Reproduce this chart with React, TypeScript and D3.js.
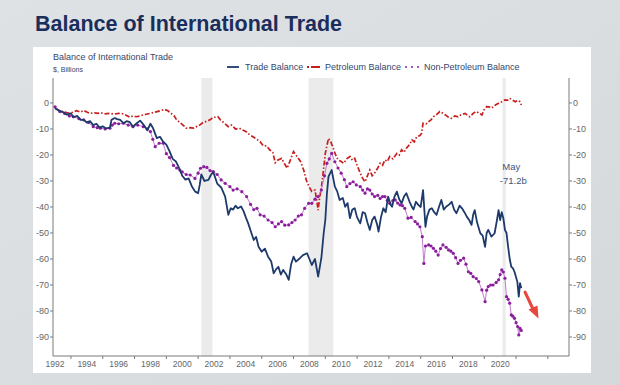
import * as d3 from "d3";

// Monthly readings (decimal year) taken off the chart, $ billions
const tradeDates = [
  1992.0, 1992.25, 1992.5, 1992.75, 1993.0, 1993.15, 1993.4, 1993.6, 1993.8, 1994.0,
  1994.2, 1994.4, 1994.6, 1994.8, 1995.0, 1995.2, 1995.45, 1995.55, 1995.75, 1995.9,
  1996.1, 1996.3, 1996.5, 1996.7, 1996.9, 1997.1, 1997.35, 1997.55, 1997.8, 1998.0,
  1998.15, 1998.4, 1998.6, 1998.8, 1999.0, 1999.2, 1999.4, 1999.6, 1999.8, 2000.0,
  2000.2, 2000.4, 2000.6, 2000.8, 2001.0, 2001.1, 2001.2, 2001.4, 2001.65, 2001.8,
  2001.95, 2002.2, 2002.45, 2002.7, 2002.9, 2003.05, 2003.2, 2003.35, 2003.5, 2003.7,
  2003.85, 2004.0, 2004.15, 2004.35, 2004.5, 2004.65, 2004.8, 2005.0, 2005.2, 2005.4,
  2005.6, 2005.75, 2005.9, 2006.05, 2006.2, 2006.35, 2006.55, 2006.7, 2006.85, 2007.0,
  2007.15, 2007.4, 2007.6, 2007.85, 2008.0, 2008.15, 2008.35, 2008.55, 2008.75, 2008.9,
  2009.0, 2009.1, 2009.2, 2009.4, 2009.5, 2009.6, 2009.75, 2009.9, 2010.1, 2010.25,
  2010.4, 2010.55, 2010.7, 2010.85, 2011.0, 2011.2, 2011.35, 2011.5, 2011.65, 2011.8,
  2011.95, 2012.1, 2012.25, 2012.35, 2012.5, 2012.65, 2012.8, 2012.95, 2013.1, 2013.2,
  2013.35, 2013.5, 2013.65, 2013.8, 2013.95, 2014.1, 2014.3, 2014.45, 2014.55, 2014.7,
  2014.85, 2015.0, 2015.15, 2015.3, 2015.4, 2015.55, 2015.7, 2015.85, 2016.0, 2016.15,
  2016.3, 2016.45, 2016.6, 2016.8, 2016.95, 2017.1, 2017.25, 2017.45, 2017.6, 2017.75,
  2017.9, 2018.05, 2018.2, 2018.3, 2018.4, 2018.55, 2018.75, 2018.9, 2019.05, 2019.15,
  2019.25, 2019.45, 2019.65, 2019.8, 2019.9, 2020.0, 2020.1, 2020.2, 2020.3, 2020.4,
  2020.5, 2020.6, 2020.7, 2020.8, 2020.9, 2021.0, 2021.08, 2021.17, 2021.25, 2021.33,
];
const tradeValues = [
  -2.0, -3.0, -3.5, -4.5, -4.0, -5.5, -5.0, -6.5, -6.5, -7.5,
  -7.0, -8.5, -8.0, -9.5, -9.0, -9.8, -9.5, -6.5, -5.8, -6.2,
  -6.5, -7.8, -7.0, -7.4, -9.1, -8.0, -6.8, -8.2, -10.5, -8.0,
  -9.5, -13.5, -13.0, -14.9, -16.0, -18.5, -21.5, -22.5, -25.0, -28.0,
  -29.5, -29.0, -32.0, -34.0, -34.7, -31.5, -27.5, -30.0, -29.6, -27.7,
  -26.5, -31.0, -32.5, -36.0, -43.0, -40.5, -41.0, -39.5, -40.5, -39.8,
  -41.5, -44.0, -46.3, -50.0, -52.7, -51.5, -55.3, -57.2, -56.0, -59.1,
  -61.0, -65.5, -64.0, -63.0, -66.0, -64.2, -66.0, -68.0, -62.0, -59.1,
  -61.0, -59.7, -58.5, -57.8, -60.0, -62.3, -60.0, -66.8, -59.7, -50.0,
  -45.0, -35.0, -28.3, -25.8, -29.0, -32.2, -34.0, -37.3, -36.5, -39.9,
  -38.5, -44.3, -41.0, -40.5, -44.0, -46.3, -42.0, -42.4, -46.0, -48.8,
  -45.0, -43.7, -46.5, -49.5, -44.0, -40.5, -42.0, -36.0, -39.0, -39.9,
  -36.0, -34.1, -37.0, -38.6, -36.0, -34.7, -38.0, -40.0, -41.0, -38.0,
  -39.2, -40.0, -33.5, -47.6, -43.7, -41.0, -40.5, -42.0, -43.0, -40.0,
  -37.3, -41.0, -39.9, -39.0, -38.0, -41.0, -42.4, -39.5, -40.5, -42.0,
  -43.7, -45.0, -46.9, -43.0, -41.2, -46.0, -50.1, -51.0, -55.3, -50.0,
  -48.8, -51.4, -50.1, -45.0, -41.2, -45.0, -42.0, -44.3, -48.8, -50.0,
  -55.3, -60.0, -63.0, -63.5, -64.9, -67.0, -68.7, -74.5, -69.3, -71.2,
];

const petroDates = [
  1992.0, 1992.3, 1992.6, 1992.95, 1993.15, 1993.35, 1993.6, 1993.8, 1994.0, 1994.2,
  1994.5, 1994.7, 1994.85, 1995.1, 1995.45, 1995.7, 1996.0, 1996.3, 1996.5, 1996.7,
  1996.9, 1997.1, 1997.35, 1997.6, 1998.0, 1998.3, 1998.6, 1998.9, 1999.1, 1999.3,
  1999.5, 1999.65, 1999.85, 2000.05, 2000.25, 2000.5, 2000.7, 2000.9, 2001.1, 2001.3,
  2001.55, 2001.75, 2001.95, 2002.1, 2002.25, 2002.4, 2002.6, 2002.9, 2003.1, 2003.35,
  2003.6, 2003.8, 2004.0, 2004.25, 2004.45, 2004.7, 2004.9, 2005.1, 2005.3, 2005.5,
  2005.7, 2005.85, 2006.0, 2006.25, 2006.4, 2006.6, 2006.8, 2007.0, 2007.15, 2007.3,
  2007.45, 2007.65, 2007.8, 2008.0, 2008.15, 2008.35, 2008.45, 2008.55, 2008.65, 2008.75,
  2008.9, 2009.0, 2009.2, 2009.35, 2009.5, 2009.65, 2009.8, 2010.0, 2010.15, 2010.35,
  2010.55, 2010.7, 2010.85, 2011.0, 2011.2, 2011.35, 2011.5, 2011.65, 2011.8, 2011.95,
  2012.1, 2012.3, 2012.45, 2012.6, 2012.75, 2012.9, 2013.05, 2013.25, 2013.5, 2013.65,
  2013.8, 2013.95, 2014.1, 2014.3, 2014.45, 2014.6, 2014.75, 2014.95, 2015.05, 2015.15,
  2015.35, 2015.5, 2015.65, 2015.8, 2016.0, 2016.2, 2016.4, 2016.55, 2016.75, 2016.95,
  2017.15, 2017.35, 2017.55, 2017.8, 2017.95, 2018.1, 2018.3, 2018.5, 2018.7, 2018.85,
  2019.0, 2019.15, 2019.3, 2019.45, 2019.7, 2019.9, 2020.1, 2020.3, 2020.45, 2020.6,
  2020.75, 2020.95, 2021.1, 2021.25, 2021.33,
];
const petroValues = [
  -2.0, -3.0, -3.5, -4.0, -3.5, -3.0, -3.5, -2.9, -3.5, -4.0,
  -3.8, -4.0, -3.7, -4.2, -4.0, -4.3, -4.0, -4.2, -4.8, -5.5,
  -5.0, -5.3, -5.0, -4.5, -4.0, -3.5, -3.0, -2.5, -3.0, -4.0,
  -5.0, -6.5, -7.5, -8.5, -9.7, -9.5, -9.7, -9.1, -8.5, -7.5,
  -7.0, -6.5, -5.5, -5.5, -5.3, -6.5, -7.5, -9.1, -8.5, -10.0,
  -9.7, -10.4, -11.0, -12.3, -13.0, -14.0, -14.9, -16.5, -16.5, -18.0,
  -19.0, -23.0, -22.0, -21.3, -23.0, -25.1, -22.0, -18.7, -20.0, -21.3,
  -22.6, -26.0, -29.6, -32.5, -34.0, -33.5, -37.0, -41.2, -36.0, -32.8,
  -25.0, -19.4, -13.6, -15.0, -17.4, -20.0, -21.9, -22.5, -23.2, -21.5,
  -20.6, -22.0, -21.3, -24.0, -27.0, -29.0, -30.3, -28.0, -25.8, -28.0,
  -27.0, -25.0, -23.2, -24.0, -21.9, -22.5, -20.6, -21.5, -19.4, -20.0,
  -18.0, -19.0, -17.4, -16.0, -14.2, -15.0, -13.0, -12.5, -11.7, -7.8,
  -8.0, -7.2, -6.5, -5.3, -4.5, -3.3, -4.0, -4.6, -5.5, -5.9,
  -5.0, -5.3, -4.5, -4.0, -4.8, -5.3, -4.0, -3.3, -4.0, -4.6,
  -2.5, -1.4, -1.5, -2.0, -0.8, -0.1, 0.5, 1.2, 1.0, 1.8,
  1.2, 0.5, 1.0, 0.5, -0.8,
];

const nonPetroDates = [
  1992.0, 1992.3, 1992.6, 1992.9, 1993.15, 1993.5, 1993.8, 1994.1, 1994.4, 1994.65,
  1994.85, 1995.15, 1995.45, 1995.6, 1995.75, 1996.0, 1996.3, 1996.6, 1996.9, 1997.2,
  1997.55, 1997.8, 1998.0, 1998.15, 1998.3, 1998.55, 1998.8, 1999.0, 1999.2, 1999.45,
  1999.65, 1999.85, 2000.0, 2000.25, 2000.5, 2000.8, 2001.0, 2001.15, 2001.35, 2001.55,
  2001.75, 2001.95, 2002.2, 2002.45, 2002.7, 2003.0, 2003.2, 2003.45, 2003.75, 2004.05,
  2004.3, 2004.5, 2004.7, 2004.9, 2005.15, 2005.4, 2005.65, 2005.85, 2006.05, 2006.25,
  2006.45, 2006.7, 2006.9, 2007.1, 2007.3, 2007.5, 2007.7, 2007.95, 2008.15, 2008.35,
  2008.55, 2008.75, 2008.95, 2009.1, 2009.25, 2009.4, 2009.6, 2009.8, 2010.0, 2010.2,
  2010.35, 2010.55, 2010.75, 2010.95, 2011.2, 2011.35, 2011.5, 2011.65, 2011.8, 2011.95,
  2012.1, 2012.3, 2012.45, 2012.6, 2012.75, 2012.9, 2013.05, 2013.25, 2013.4, 2013.55,
  2013.7, 2013.85, 2014.0, 2014.2, 2014.4, 2014.65, 2014.8, 2014.95, 2015.1, 2015.2,
  2015.3, 2015.5, 2015.65, 2015.8, 2015.95, 2016.1, 2016.25, 2016.4, 2016.6, 2016.75,
  2016.9, 2017.05, 2017.2, 2017.35, 2017.5, 2017.7, 2017.85, 2018.0, 2018.15, 2018.3,
  2018.5, 2018.65, 2018.85, 2019.05, 2019.15, 2019.25, 2019.4, 2019.55, 2019.75, 2019.9,
  2020.0, 2020.1, 2020.2, 2020.3, 2020.4, 2020.5, 2020.6, 2020.7, 2020.8, 2020.9,
  2021.0, 2021.1, 2021.17, 2021.25, 2021.33,
];
const nonPetroValues = [
  -1.5, -3.3, -4.0, -5.0, -5.3, -6.0, -6.5, -7.5, -9.1, -9.5,
  -9.7, -10.0, -9.7, -8.5, -7.8, -8.0, -7.8, -8.5, -9.1, -8.5,
  -9.1, -10.0, -11.0, -14.0, -16.8, -15.5, -15.5, -19.5, -21.0, -24.0,
  -25.0, -25.8, -26.5, -27.5, -27.7, -29.0, -27.0, -25.1, -24.5, -24.8,
  -26.0, -26.4, -27.5, -29.6, -30.9, -32.2, -33.5, -33.0, -34.1, -36.0,
  -39.0, -41.0, -40.5, -43.0, -43.5, -45.0, -46.0, -47.6, -46.5, -45.6,
  -47.0, -46.9, -46.0, -45.0, -43.5, -43.0, -40.5, -38.6, -38.6, -37.0,
  -36.0, -33.5, -28.0, -23.2, -21.5, -19.4, -22.6, -25.0, -27.0, -29.5,
  -32.2, -31.0, -30.3, -31.5, -32.2, -33.5, -34.7, -33.0, -33.5, -35.0,
  -36.0, -35.5, -36.7, -36.0, -36.0, -37.5, -38.6, -37.5, -37.3, -38.5,
  -39.2, -39.5, -40.5, -44.3, -44.0, -45.6, -46.5, -47.6, -51.4, -61.7,
  -55.0, -54.6, -55.0, -55.9, -57.0, -58.5, -56.0, -54.6, -55.5, -56.5,
  -57.0, -57.8, -59.5, -61.7, -60.5, -59.7, -62.0, -64.9, -65.5, -66.8,
  -67.5, -68.7, -71.9, -76.4, -72.0, -70.6, -70.0, -70.0, -69.0, -68.0,
  -66.0, -64.2, -65.0, -67.4, -74.5, -75.5, -77.0, -81.5, -82.0, -82.8,
  -84.5, -86.0, -89.2, -86.7, -87.5,
];

// Recession bands [start, end]
const recessions = [
  [2001.2, 2001.9],
  [2007.95, 2009.5],
  [2020.15, 2020.35],
];

const yTicks = [0, -10, -20, -30, -40, -50, -60, -70, -80, -90];
const xLabelYears = [
  1992, 1994, 1996, 1998, 2000, 2002, 2004, 2006, 2008, 2010, 2012, 2014, 2016, 2018, 2020,
];
const xTickYears = [
  1993, 1995, 1997, 1999, 2001, 2003, 2005, 2007, 2009, 2011, 2013, 2015, 2017, 2019, 2021, 2023,
];

const NAVY = "#1d3a6b";
const RED = "#c81e1e";
const PURPLE = "#8a1e9c";
const FONT = "'Liberation Sans', Arial, sans-serif";

const App = () => {
  const width = 620;
  const height = 385;
  const left = 53;
  const right = 569;
  const top = 78;
  const bottom = 356;

  const x = d3.scaleLinear().domain([1991.87, 2024.33]).range([left, right]);
  const y = d3.scaleLinear().domain([-97.3, 9.6]).range([bottom, top]);

  const line = d3
    .line<[number, number]>()
    .x((d) => x(d[0]))
    .y((d) => y(d[1]));

  const trade = tradeDates.map((d, i) => [d, tradeValues[i]] as [number, number]);
  const petro = petroDates.map((d, i) => [d, petroValues[i]] as [number, number]);
  const nonPetro = nonPetroDates.map((d, i) => [d, nonPetroValues[i]] as [number, number]);
  const last = trade[trade.length - 1];

  return (
    <div style={{ position: "fixed", left: 0, top: 0 }}>
      <svg width={width} height={height} style={{ display: "block" }} fontFamily={FONT}>
        <defs>
          <linearGradient id="bg" x1="0" y1="0" x2="1" y2="1">
            <stop offset="0" stopColor="#dfe2e5" />
            <stop offset="1" stopColor="#d6d9dc" />
          </linearGradient>
        </defs>
        <rect width={width} height={height} fill="url(#bg)" />

        {/* Slide title */}
        <text x={35} y={31} fontSize={21.5} fontWeight="bold" fill="#1b2d5b">
          Balance of International Trade
        </text>

        {/* White chart panel */}
        <rect x={33} y={47} width={558} height={326} fill="#ffffff" />

        <text x={53} y={60} fontSize={9} fill="#34466b">
          Balance of International Trade
        </text>
        <text x={53} y={72} fontSize={7} fill="#34466b">
          $, Billions
        </text>

        {/* Legend */}
        <g fontSize={9} fill="#34466b">
          <line x1={227} x2={239} y1={67} y2={67} stroke={NAVY} strokeWidth={1.8} />
          <text x={245} y={70}>Trade Balance</text>
          <line x1={307} x2={320} y1={67} y2={67} stroke={RED} strokeWidth={1.8} strokeDasharray="2 2 9 0" />
          <text x={325} y={70}>Petroleum Balance</text>
          {[406, 412, 418].map((cx) => (
            <circle key={cx} cx={cx} cy={67} r={1} fill={PURPLE} />
          ))}
          <text x={424} y={70}>Non-Petroleum Balance</text>
        </g>

        {/* Recession shading */}
        {recessions.map(([a, b], i) => (
          <rect key={i} x={x(a)} y={top} width={x(b) - x(a)} height={bottom - top} fill="#ebebeb" />
        ))}

        {/* Axes */}
        <g stroke="#7a7a7a" strokeWidth={1}>
          <line x1={left} x2={left} y1={top} y2={bottom} />
          <line x1={right} x2={right} y1={top} y2={bottom} />
          <line x1={left} x2={right} y1={bottom} y2={bottom} />
          {yTicks.map((t) => (
            <g key={t}>
              <line x1={left - 3} x2={left} y1={y(t)} y2={y(t)} />
              <line x1={right} x2={right + 3} y1={y(t)} y2={y(t)} />
            </g>
          ))}
          {xTickYears.map((t) => (
            <line key={t} x1={x(t)} x2={x(t)} y1={bottom} y2={bottom + 3} />
          ))}
        </g>
        <g fontSize={9} fill="#666">
          {yTicks.map((t) => (
            <g key={t}>
              <text x={left - 4} y={y(t) + 3} textAnchor="end">{t}</text>
              <text x={right + 4} y={y(t) + 3}>{t}</text>
            </g>
          ))}
        </g>
        <g fontSize={8.5} fill="#666" textAnchor="middle">
          {xLabelYears.map((t) => (
            <text key={t} x={x(t)} y={367}>{t}</text>
          ))}
        </g>

        {/* Series */}
        <path d={line(petro) ?? ""} fill="none" stroke={RED} strokeWidth={1.7} strokeDasharray="5 2 1.5 2" />
        <path d={line(nonPetro) ?? ""} fill="none" stroke="#c27ad0" strokeWidth={1} />
        {nonPetro.map((d, i) => (
          <circle key={i} cx={x(d[0])} cy={y(d[1])} r={1.6} fill={PURPLE} />
        ))}
        <path d={line(trade) ?? ""} fill="none" stroke={NAVY} strokeWidth={1.8} strokeLinejoin="round" />

        {/* Latest value annotation */}
        <g fontSize={9.5} fill="#3b5580" textAnchor="middle">
          <text x={x(last[0]) - 10} y={170}>May</text>
          <text x={x(last[0]) - 8} y={184}>{`${last[1]}b`}</text>
        </g>

        {/* Red arrow */}
        <g fill="#e8473d" stroke="none">
          <line x1={525} y1={292} x2={533} y2={309} stroke="#e8473d" strokeWidth={3} strokeLinecap="round" />
          <path d="M538.5,318.5 L528.5,309.5 L537.5,305.5 Z" />
        </g>
      </svg>
    </div>
  );
};

export default App;
